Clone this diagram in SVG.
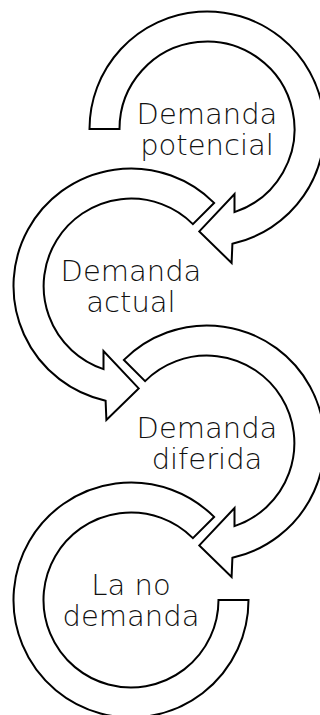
<svg xmlns="http://www.w3.org/2000/svg" width="320" height="715" viewBox="0 0 320 715">
<style>
.arrow{fill:#ffffff;stroke:#000000;stroke-width:2;stroke-linejoin:miter}
.lbl{font-family:"DejaVu Sans","Liberation Sans",sans-serif;font-weight:200;font-size:29px;fill:#111111;text-anchor:middle}
</style>
<rect width="320" height="715" fill="#ffffff"/>
<g id="node-potencial">
<path class="arrow" d="M 89.5,129 A 117.5 117.5 0 1 1 232.4,243.7 L 231.6,263 L 199.3,231.4 L 234.5,194 L 234.5,212.1 A 87.5 87.5 0 1 0 119.5,129 Z"/>
<text class="lbl" x="207" y="124">Demanda</text>
<text class="lbl" x="207" y="155">potencial</text>
</g>
<g id="node-actual">
<path class="arrow" d="M 214.1,202.9 A 117.5 117.5 0 1 0 105.6,400.7 L 106.4,420 L 138.7,388.4 L 103.5,351 L 103.5,369.1 A 87.5 87.5 0 1 1 192.9,224.1 Z"/>
<text class="lbl" x="131" y="281">Demanda</text>
<text class="lbl" x="131" y="312">actual</text>
</g>
<g id="node-diferida">
<path class="arrow" d="M 123.9,359.9 A 117.5 117.5 0 1 1 232.4,557.7 L 231.6,577 L 199.3,545.4 L 234.5,508 L 234.5,526.1 A 87.5 87.5 0 1 0 145.1,381.1 Z"/>
<text class="lbl" x="207" y="438">Demanda</text>
<text class="lbl" x="207" y="469">diferida</text>
</g>
<g id="node-nodemanda">
<path class="arrow" d="M 214.1,516.9 A 117.5 117.5 0 1 0 248.5,600 L 218.5,600 A 87.5 87.5 0 1 1 192.9,538.1 Z"/>
<text class="lbl" x="131" y="595">La no</text>
<text class="lbl" x="131" y="626">demanda</text>
</g>
<g id="connectors"/>
</svg>
